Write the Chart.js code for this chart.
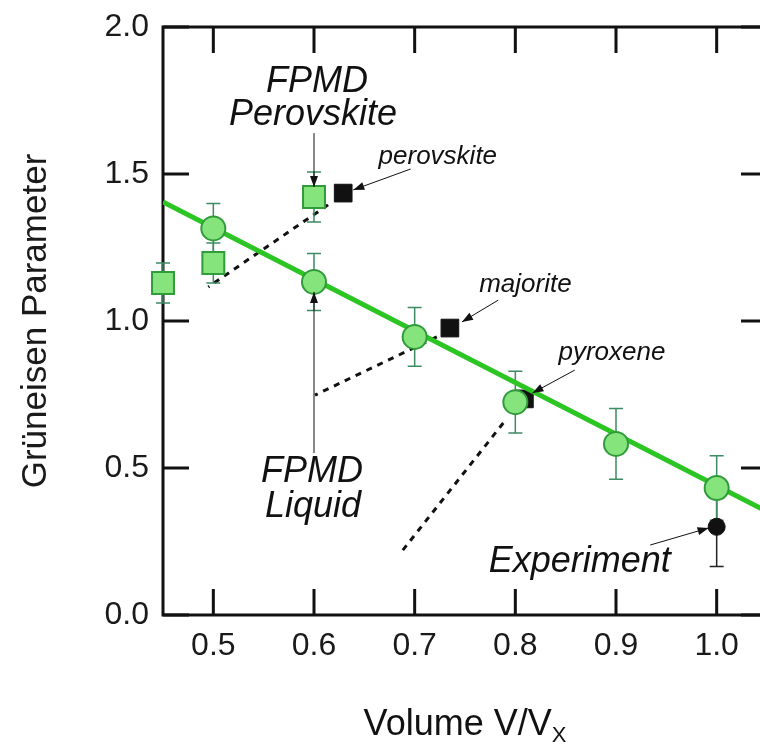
<!DOCTYPE html>
<html>
<head>
<meta charset="utf-8">
<title>Grüneisen Parameter vs Volume</title>
<script src="https://cdn.jsdelivr.net/npm/chart.js@4/dist/chart.umd.min.js"></script>
<style>
  html, body { margin: 0; padding: 0; background: #fff; overflow: hidden; }
  #wrap { width: 760px; height: 742px; overflow: hidden; }
  canvas { display: block; }
</style>
</head>
<body>
<div id="wrap"><canvas id="myChart" width="770" height="742"></canvas></div>
<script>
// values
var liquidV = [0.5, 0.6, 0.7, 0.8, 0.9, 1.0];
var liquidGamma = [1.315, 1.133, 0.946, 0.724, 0.582, 0.432];
var liquidErr = [0.085, 0.097, 0.1, 0.105, 0.12, 0.11];

var perovV = [0.45, 0.5, 0.6];
var perovGamma = [1.129, 1.197, 1.422];
var perovErr = [0.068, 0.068, 0.085];

var mineralNames = ['perovskite', 'majorite', 'pyroxene'];
var mineralV = [0.629, 0.735, 0.809];
var mineralGamma = [1.435, 0.976, 0.735];

var expV = [1.0];
var expGamma = [0.30];
var expErr = [0.135];

var fitV = [0.45, 1.05];
var fitGamma = [1.405, 0.352];

var xTicks = [0.5, 0.6, 0.7, 0.8, 0.9, 1.0];
var yTicks = [0.0, 0.5, 1.0, 1.5, 2.0];

function pts(xs, ys) {
    return xs.map(function (x, i) { return { x: x, y: ys[i] }; });
}

// annotations (data coordinates)
var labels = [
    { text: 'FPMD', x: 0.603, y: 1.813, big: true },
    { text: 'Perovskite', x: 0.599, y: 1.70, big: true },
    { text: 'FPMD', x: 0.598, y: 0.486, big: true },
    { text: 'Liquid', x: 0.599, y: 0.367, big: true },
    { text: 'Experiment', x: 0.864, y: 0.18, big: true },
    { text: mineralNames[0], x: 0.723, y: 1.558, big: false },
    { text: mineralNames[1], x: 0.81, y: 1.122, big: false },
    { text: mineralNames[2], x: 0.896, y: 0.891, big: false }
];
var arrows = [
    [0.6, 1.639, 0.6, 1.456],
    [0.6, 0.551, 0.6, 1.099],
    [0.696, 1.517, 0.639, 1.446],
    [0.783, 1.071, 0.747, 0.997],
    [0.859, 0.833, 0.817, 0.755],
    [0.934, 0.238, 0.992, 0.296]
];
var dotted = [
    [0.614, 1.395, 0.495, 1.116],
    [0.722, 0.946, 0.601, 0.748],
    [0.788, 0.653, 0.686, 0.211]
];

var FONT = '"Liberation Sans", Arial, Helvetica, sans-serif';

var decorations = {
    id: 'decorations',
    beforeDraw: function (chart) {
        var c = chart.ctx;
        c.save();
        c.fillStyle = '#fff';
        c.fillRect(0, 0, chart.width, chart.height);
        c.restore();
    },
    beforeDatasetsDraw: function (chart) {
        var c = chart.ctx, a = chart.chartArea;
        var xs = chart.scales.x, ys = chart.scales.y;
        c.save();
        // dotted connectors
        c.strokeStyle = '#111';
        c.lineWidth = 3;
        c.setLineDash([6, 6]);
        dotted.forEach(function (d) {
            c.beginPath();
            c.moveTo(xs.getPixelForValue(d[0]), ys.getPixelForValue(d[1]));
            c.lineTo(xs.getPixelForValue(d[2]), ys.getPixelForValue(d[3]));
            c.stroke();
        });
        c.setLineDash([]);
        // frame with inward ticks
        c.strokeStyle = '#111';
        c.lineWidth = 3;
        c.strokeRect(a.left, a.top, a.right - a.left, a.bottom - a.top);
        var tl = 26;
        c.beginPath();
        xTicks.forEach(function (v) {
            var px = xs.getPixelForValue(v);
            c.moveTo(px, a.bottom); c.lineTo(px, a.bottom - tl);
            c.moveTo(px, a.top); c.lineTo(px, a.top + tl);
        });
        yTicks.forEach(function (v) {
            var py = ys.getPixelForValue(v);
            c.moveTo(a.left, py); c.lineTo(a.left + tl, py);
            c.moveTo(a.right, py); c.lineTo(a.right - tl, py);
        });
        c.stroke();
        // error bars
        chart.data.datasets.forEach(function (ds, i) {
            if (!ds.errorBars) return;
            var meta = chart.getDatasetMeta(i);
            c.strokeStyle = ds.errorColor;
            c.lineWidth = 1.5;
            meta.data.forEach(function (p, j) {
                var v = ds.data[j].y, e = ds.errorBars[j];
                var top = ys.getPixelForValue(v + e), bot = ys.getPixelForValue(v - e);
                c.beginPath();
                c.moveTo(p.x, top); c.lineTo(p.x, bot);
                c.moveTo(p.x - 7, top); c.lineTo(p.x + 7, top);
                c.moveTo(p.x - 7, bot); c.lineTo(p.x + 7, bot);
                c.stroke();
            });
        });
        c.restore();
    },
    afterDatasetsDraw: function (chart) {
        var c = chart.ctx;
        var xs = chart.scales.x, ys = chart.scales.y;
        c.save();
        // arrows
        c.strokeStyle = '#111';
        c.fillStyle = '#111';
        c.lineWidth = 1;
        arrows.forEach(function (d) {
            var x1 = xs.getPixelForValue(d[0]), y1 = ys.getPixelForValue(d[1]);
            var x2 = xs.getPixelForValue(d[2]), y2 = ys.getPixelForValue(d[3]);
            var ang = Math.atan2(y2 - y1, x2 - x1);
            c.beginPath();
            c.moveTo(x1, y1); c.lineTo(x2, y2);
            c.stroke();
            c.beginPath();
            c.moveTo(x2, y2);
            c.lineTo(x2 - 11 * Math.cos(ang) + 4 * Math.sin(ang), y2 - 11 * Math.sin(ang) - 4 * Math.cos(ang));
            c.lineTo(x2 - 11 * Math.cos(ang) - 4 * Math.sin(ang), y2 - 11 * Math.sin(ang) + 4 * Math.cos(ang));
            c.closePath();
            c.fill();
        });
        // text labels
        c.textAlign = 'center';
        c.textBaseline = 'middle';
        labels.forEach(function (l) {
            c.font = 'italic ' + (l.big ? 36 : 26) + 'px ' + FONT;
            c.fillText(l.text, xs.getPixelForValue(l.x), ys.getPixelForValue(l.y));
        });
        // x axis title with subscript
        var a = chart.chartArea;
        var main = 'Volume V/V', sub = 'X';
        c.font = '36px ' + FONT;
        var w1 = c.measureText(main).width;
        c.font = '22px ' + FONT;
        var w2 = c.measureText(sub).width;
        var x0 = (a.left + a.right) / 2 - (w1 + w2) / 2;
        c.textAlign = 'left';
        c.textBaseline = 'alphabetic';
        c.font = '36px ' + FONT;
        c.fillText(main, x0, 735);
        c.font = '22px ' + FONT;
        c.fillText(sub, x0 + w1, 742);
        c.restore();
    }
};

function noPad(scale) {
    scale.paddingTop = 0;
    scale.paddingBottom = 0;
    scale.paddingLeft = 0;
    scale.paddingRight = 0;
}

var ctx = document.getElementById('myChart').getContext('2d');
var myChart = new Chart(ctx, {
    type: 'scatter',
    data: {
        datasets: [
            {
                label: 'Experiment',
                data: pts(expV, expGamma),
                errorBars: expErr,
                errorColor: '#222',
                pointStyle: 'circle',
                pointRadius: 8.5,
                backgroundColor: '#111',
                borderColor: '#111',
                borderWidth: 1,
                order: 0,
                clip: false
            },
            {
                label: 'FPMD Liquid',
                data: pts(liquidV, liquidGamma),
                errorBars: liquidErr,
                errorColor: '#3d8b63',
                pointStyle: 'circle',
                pointRadius: 12,
                backgroundColor: '#86e47c',
                borderColor: '#2f9b3a',
                borderWidth: 2,
                order: 1,
                clip: false
            },
            {
                label: 'FPMD Perovskite',
                data: pts(perovV, perovGamma),
                errorBars: perovErr,
                errorColor: '#3d8b63',
                pointStyle: 'rect',
                pointRadius: 15.5,
                backgroundColor: '#86e47c',
                borderColor: '#2f9b3a',
                borderWidth: 2,
                order: 2,
                clip: false
            },
            {
                label: 'Fit',
                type: 'line',
                data: pts(fitV, fitGamma),
                showLine: true,
                borderColor: '#2cc524',
                borderWidth: 5,
                pointRadius: 0,
                fill: false,
                order: 3
            },
            {
                label: 'Minerals',
                data: pts(mineralV, mineralGamma),
                pointStyle: 'rect',
                pointRadius: 12.5,
                backgroundColor: '#111',
                borderColor: '#111',
                borderWidth: 1,
                order: 4,
                clip: false
            }
        ]
    },
    options: {
        responsive: false,
        animation: false,
        devicePixelRatio: 1,
        layout: { autoPadding: false, padding: { top: 27, right: 3, left: 0, bottom: 0 } },
        plugins: {
            legend: { display: false },
            tooltip: { enabled: false }
        },
        scales: {
            x: {
                type: 'linear',
                position: 'bottom',
                min: 0.45,
                max: 1.05,
                grid: { display: false, drawTicks: false },
                border: { display: false },
                afterBuildTicks: function (scale) {
                    scale.ticks = xTicks.map(function (v) { return { value: v }; });
                },
                afterFit: function (scale) { scale.height = 127; noPad(scale); },
                ticks: {
                    padding: 12,
                    color: '#1a1a1a',
                    font: { family: FONT, size: 32 },
                    callback: function (v) { return Number(v).toFixed(1); }
                }
            },
            y: {
                type: 'linear',
                min: 0,
                max: 2,
                grid: { display: false, drawTicks: false },
                border: { display: false },
                afterBuildTicks: function (scale) {
                    scale.ticks = yTicks.map(function (v) { return { value: v }; });
                },
                afterFit: function (scale) { scale.width = 163; noPad(scale); },
                title: {
                    display: true,
                    text: 'Grüneisen Parameter',
                    color: '#1a1a1a',
                    font: { family: FONT, size: 35 },
                    padding: { top: 15, bottom: 0 }
                },
                ticks: {
                    padding: 14,
                    color: '#1a1a1a',
                    font: { family: FONT, size: 32 },
                    callback: function (v) { return Number(v).toFixed(1); }
                }
            }
        }
    },
    plugins: [decorations]
});
</script>
</body>
</html>
